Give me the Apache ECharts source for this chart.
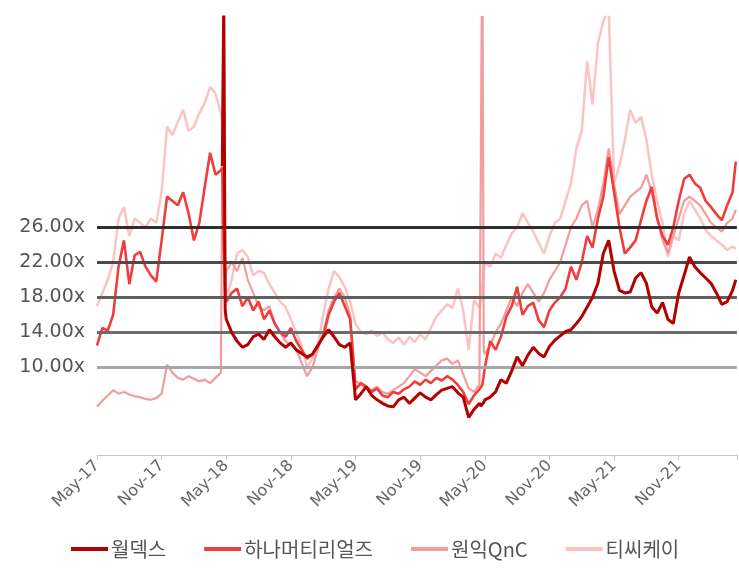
<!DOCTYPE html>
<html>
<head>
<meta charset="utf-8">
<script src="https://cdn.jsdelivr.net/npm/echarts@6/dist/echarts.min.js"></script>
<style>
  html, body { margin: 0; padding: 0; background: #ffffff; }
  #chart { width: 739px; height: 581px; }
</style>
</head>
<body>
<div id="chart"></div>
<script>
// Observation dates (semi-monthly, with extra points around the earnings-gap spikes)
const dates = [
  '2017-05-01','2017-05-16','2017-06-01','2017-06-16','2017-07-01','2017-07-16','2017-08-01','2017-08-16',
  '2017-09-01','2017-09-16','2017-10-01','2017-10-16','2017-11-01','2017-11-16','2017-12-01','2017-12-16',
  '2018-01-01','2018-01-16','2018-02-01','2018-02-16','2018-03-01','2018-03-16','2018-04-01','2018-04-16',
  '2018-04-20','2018-04-24','2018-04-28',
  '2018-05-01','2018-05-16','2018-06-01','2018-06-16','2018-07-01','2018-07-16','2018-08-01','2018-08-16',
  '2018-09-01','2018-09-16','2018-10-01','2018-10-16','2018-11-01','2018-11-16','2018-12-01','2018-12-16',
  '2019-01-01','2019-01-16','2019-02-01','2019-02-16','2019-03-01','2019-03-16','2019-04-01','2019-04-16',
  '2019-05-01','2019-05-16','2019-06-01','2019-06-16','2019-07-01','2019-07-16','2019-08-01','2019-08-16',
  '2019-09-01','2019-09-16','2019-10-01','2019-10-16','2019-11-01','2019-11-16','2019-12-01','2019-12-16',
  '2020-01-01','2020-01-16','2020-02-01','2020-02-16','2020-03-01','2020-03-16','2020-04-01','2020-04-16',
  '2020-04-20','2020-04-24','2020-04-28',
  '2020-05-01','2020-05-16','2020-06-01','2020-06-16','2020-07-01','2020-07-16','2020-08-01','2020-08-16',
  '2020-09-01','2020-09-16','2020-10-01','2020-10-16','2020-11-01','2020-11-16','2020-12-01','2020-12-16',
  '2021-01-01','2021-01-16','2021-02-01','2021-02-16','2021-03-01','2021-03-16','2021-04-01','2021-04-16',
  '2021-05-01','2021-05-16','2021-06-01','2021-06-16','2021-07-01','2021-07-16','2021-08-01','2021-08-16',
  '2021-09-01','2021-09-16','2021-10-01','2021-10-16','2021-11-01','2021-11-16','2021-12-01','2021-12-16',
  '2022-01-01','2022-01-16','2022-02-01','2022-02-16','2022-03-01','2022-03-16','2022-04-01','2022-04-10'
];

// 12M forward P/E (x) per company
const perWonikQnC = [   // 원익QnC
  5.5,6.2,6.8,7.4,7.0,7.2,6.9,6.7,6.6,6.4,6.3,6.5,7.0,10.3,9.4,8.8,
  8.6,9.0,8.7,8.4,8.6,8.2,8.8,9.4, 9.5,56,19,
  21,22,21,22.5,20,18.5,17,16.5,17,15,14,13,12.5,12,10.5,9,
  10,12,14,16.5,18,19,18,16, 8.5,8.0,7.6,7.4,7.8,7.2,7.0,7.4,7.8,8.2,9.0,9.8,9.4,9.0,9.6,10.2,
  10.8,11.0,10.4,10.8,9.2,7.6,7.2,8.0, 8.2,60,12,
  11.5,12.5,14,15,16.5,18,17,18.5,19.5,18.5,17.5,18.5,20,21,22,24,
  26,27,28.5,29,26,28,31,35,31,27.5,28.5,29.5,30,30.5,32,30,27,24.5,23,25,27,29,29.5,29,
  28.5,27.5,26.5,26,25.5,26.5,27,28
];

const perWonderful = [  // 월덱스
  null,null,null,null,null,null,null,null,null,null,null,null,null,null,null,null,
  null,null,null,null,null,null,null,null, 33,52,16.5,
  15.5,14,13,12.3,12.6,13.5,13.8,13.2,14.3,13.5,12.8,12.3,12.8,12,11.6,11.2,
  11.5,12.5,13.5,14.3,13.5,12.6,12.3,12.8, 6.3,7.0,7.8,6.8,6.3,5.9,5.6,5.5,6.3,6.6,5.9,6.5,7.1,6.6,6.3,6.9,
  7.4,7.6,7.8,7.1,6.6,4.3,5.2,5.9, 5.6,5.8,6.0,
  6.3,6.6,7.2,8.6,8.2,9.6,11.2,10.2,11.4,12.3,11.6,11.2,12.4,13.1,13.6,14.1,
  14.3,15.0,15.8,16.9,18,19.6,23,24.5,21,18.8,18.5,18.6,20.2,20.8,19.6,16.9,16.2,17.4,15.5,15,18.5,20.5,22.6,21.5,
  20.8,20.2,19.6,18.5,17.2,17.5,18.8,20
];

const perHana = [       // 하나머티리얼즈
  12.5,14.5,14.2,16.0,21.5,24.5,19.5,22.8,23.2,21.5,20.5,19.8,24.5,29.5,29.0,28.5,
  30.0,27.6,24.5,26.5,30.6,34.5,32.0,32.5, 32.8,24,18,
  17.5,18.5,19,17,18,16.5,17.5,15.5,16.5,15,14,13.5,14.5,13,12,11,
  11.5,12.5,13.5,16,17.5,18.5,17,15.5, 7.5,8.2,7.8,7.2,7.6,6.8,6.6,7.2,7.0,7.5,7.8,8.4,8.0,8.6,8.2,8.8,
  8.5,9.0,8.6,8.0,7.2,5.8,6.8,7.5, 7.5,8.0,9.0,
  10,13,12,13.5,15.8,17,19.2,16,17,17.4,15.4,14.6,16.5,17.4,18,19,
  21.5,20,22,25,23.7,27,29.5,34,30,26,23,23.7,24.5,26.8,29,30.6,27,25,24,26,29,31.5,32,31,
  30.5,29,28.3,27.5,26.8,28.5,30,33.5
];

const perTck = [        // 티씨케이
  17,18.5,20,22,27,28.3,25,27,26.5,26,27,26.5,30,37.5,36.5,38,
  39.4,37,37.5,39,40.2,42,41.3,39, 37.9,30,22,
  18,20,23,23.4,22.6,20.5,21,20.8,19.5,18.5,17.5,16.9,15.5,14,12.5,10,
  11,12.5,16,19,21,20.3,19.2,17.5, 15,14,13.8,14.2,13.6,14,13.2,12.8,13.4,12.6,13.5,12.9,13.8,13.2,14.5,15.8,
  16.5,17.2,16.8,19,16.5,12,17.7,16.8, 17.5,19,21,
  22,21.5,23,22.5,24,25.3,26,27.6,26.5,25.5,24.2,23,25,26.5,27,29,
  31,35,37,45,40,47,49.5,51,31,33,36,39.4,37.9,38.6,36,32,29,26.5,22.6,25,24.5,27.5,29,28,
  27,25.7,25,24.5,24,23.4,23.8,23.5
];

// P/E band levels and x-axis tick labels (every six months)
const bandLevels = [26, 22, 18, 14, 10];
const tickLabels = ['May-17','Nov-17','May-18','Nov-18','May-19','Nov-19','May-20','Nov-20','May-21','Nov-21'];

// Months elapsed since May 2017, used as the x coordinate
function monthOffset(s) {
  const [y, m, d] = s.split('-').map(Number);
  return (y - 2017) * 12 + (m - 5) + (d - 1) / 30;
}
const toPairs = vals => dates.map((d, i) => [monthOffset(d), vals[i]]);

const bandColors = ['#2e2e2e', '#4b4b4b', '#5f5f5f', '#6c6c6c', '#a8a8a8'];

const lineSeries = (name, vals, color, width, z) => ({
  name, type: 'line', data: toPairs(vals), showSymbol: false, symbol: 'none',
  connectNulls: false, clip: true, z,
  lineStyle: { color, width }, itemStyle: { color }
});

const chart = echarts.init(document.getElementById('chart'), null, { renderer: 'canvas' });
chart.setOption({
  animation: false,
  backgroundColor: '#ffffff',
  grid: { left: 97, right: 0, top: 17, bottom: 126 },
  legend: {
    data: ['월덱스', '하나머티리얼즈', '원익QnC', '티씨케이'],
    left: 66, top: 534, icon: 'rect', itemWidth: 37, itemHeight: 4, itemGap: 38,
    textStyle: { fontFamily: 'Noto Sans CJK KR', fontSize: 20, color: '#555', padding: [0, 0, 0, -2] }
  },
  xAxis: {
    type: 'value', min: 0, max: 59.4, interval: 6,
    axisLine: { lineStyle: { color: '#c8c8c8', width: 1 } },
    axisTick: { length: 5, lineStyle: { color: '#c8c8c8' } },
    splitLine: { show: false },
    axisLabel: {
      rotate: 45, margin: 8, color: '#666', fontFamily: 'DejaVu Sans', fontSize: 16,
      formatter: v => (v % 6 === 0 && tickLabels[v / 6]) ? tickLabels[v / 6] : ''
    }
  },
  yAxis: {
    type: 'value', min: 0, max: 50, interval: 2,
    axisLine: { show: false }, axisTick: { show: false }, splitLine: { show: false },
    axisLabel: {
      margin: 12, color: '#555', fontFamily: 'DejaVu Sans', fontSize: 19,
      formatter: v => bandLevels.includes(v) ? v.toFixed(2) + 'x' : ''
    }
  },
  series: [
    lineSeries('티씨케이', perTck, '#fac4c4', 2.5, 2),
    lineSeries('원익QnC', perWonikQnC, '#f29c9c', 2.2, 3),
    lineSeries('하나머티리얼즈', perHana, '#f23c3c', 2.6, 4),
    lineSeries('월덱스', perWonderful, '#b30000', 3, 5),
    {
      name: 'PER band', type: 'line', data: [], z: 10, silent: true,
      markLine: {
        silent: true, symbol: 'none', label: { show: false },
        data: bandLevels.map((v, i) => ({ yAxis: v, lineStyle: { color: bandColors[i], width: 3, type: 'solid' } }))
      }
    }
  ]
});
</script>
</body>
</html>
